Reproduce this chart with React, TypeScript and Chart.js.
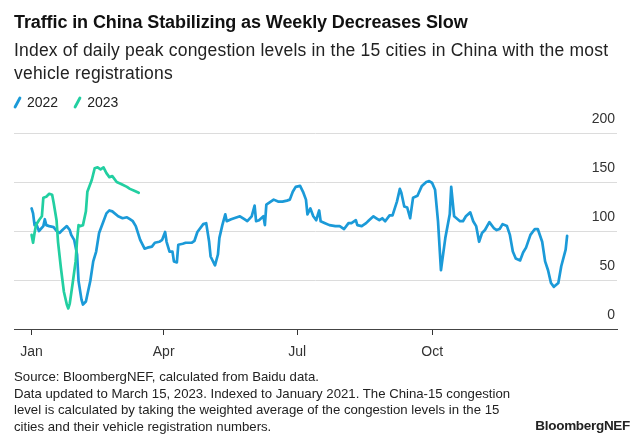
import React, { useEffect, useRef } from "react";
import { Chart, registerables } from "chart.js";

Chart.register(...registerables);

// Day offsets from Jan 1 and index values
const days2022 = [0, 1, 2, 3, 5, 8, 9, 10, 12, 15, 17, 19, 21, 24, 26, 27, 29, 31, 32, 34, 35, 37, 40, 42, 44, 46, 49, 51, 53, 55, 59, 62, 65, 67, 69, 71, 74, 77, 79, 82, 84, 87, 89, 91, 92, 94, 96, 97, 99, 100, 103, 105, 109, 111, 113, 117, 119, 121, 122, 125, 127, 128, 130, 132, 133, 136, 140, 142, 145, 147, 150, 152, 153, 155, 158, 159, 160, 162, 165, 168, 171, 174, 176, 178, 180, 183, 185, 187, 188, 190, 192, 194, 196, 197, 200, 203, 207, 210, 213, 216, 218, 221, 222, 225, 228, 230, 233, 235, 237, 239, 241, 244, 246, 249, 251, 252, 254, 256, 258, 260, 263, 266, 269, 271, 273, 275, 277, 279, 282, 285, 286, 288, 292, 294, 296, 299, 301, 303, 305, 307, 309, 312, 315, 317, 319, 321, 324, 326, 328, 330, 333, 335, 337, 340, 343, 345, 348, 350, 352, 354, 356, 359, 361, 364, 365];
const values2022 = [123, 118, 106, 108, 100, 105, 112, 106, 105, 104, 100, 98, 101, 105, 101, 96, 91, 76, 49, 30, 25, 28, 49, 69, 79, 98, 110, 118, 121, 120, 115, 113, 114, 112, 110, 105, 91, 82, 83, 84, 88, 89, 91, 99, 89, 79, 79, 69, 68, 86, 87, 88, 88, 90, 99, 107, 108, 89, 74, 65, 76, 93, 106, 117, 110, 112, 114, 115, 112, 110, 115, 126, 110, 111, 115, 106, 127, 129, 132, 130, 130, 131, 132, 140, 145, 146, 140, 132, 117, 123, 115, 111, 121, 110, 108, 106, 105, 105, 102, 108, 108, 111, 106, 105, 108, 111, 115, 113, 111, 113, 110, 116, 116, 130, 143, 139, 125, 124, 113, 134, 136, 146, 150, 151, 149, 142, 110, 60, 93, 117, 145, 115, 110, 110, 115, 119, 110, 105, 89, 98, 101, 109, 103, 101, 102, 107, 105, 96, 79, 72, 70, 78, 83, 96, 102, 102, 89, 69, 60, 47, 43, 47, 64, 81, 95];

const days2023 = [0, 1, 2, 3, 5, 7, 8, 10, 12, 14, 15, 17, 18, 20, 22, 24, 25, 26, 28, 30, 31, 32, 33, 35, 37, 38, 41, 43, 45, 47, 49, 51, 53, 55, 58, 61, 65, 67, 70, 73];
const values2023 = [96, 88, 98, 106, 111, 115, 134, 135, 138, 137, 129, 111, 89, 62, 38, 25, 21, 26, 47, 69, 91, 106, 105, 106, 120, 140, 152, 164, 165, 163, 165, 159, 155, 156, 150, 148, 145, 143, 141, 139];

const monthTickDays = [0, 90, 181, 273];
const monthTickLabels = ["Jan", "Apr", "Jul", "Oct"];
const yTickValues = [0, 50, 100, 150, 200];
const seriesLabels = ["2022", "2023"];
const seriesColors = ["#1b9ad8", "#22cfa1"];

const FONT = "'Liberation Sans', Arial, sans-serif";

function TrafficChart() {
  const ref = useRef<HTMLCanvasElement | null>(null);
  useEffect(() => {
    if (!ref.current) return;
    const chart = new Chart(ref.current, {
      type: "line",
      data: {
        datasets: [
          {
            label: seriesLabels[0],
            data: days2022.map((d, i) => ({ x: d, y: values2022[i] })),
            borderColor: seriesColors[0],
            backgroundColor: seriesColors[0],
            borderWidth: 2.7,
            pointRadius: 0,
            tension: 0,
            borderJoinStyle: "round",
            borderCapStyle: "round",
            order: 1,
          },
          {
            label: seriesLabels[1],
            data: days2023.map((d, i) => ({ x: d, y: values2023[i] })),
            borderColor: seriesColors[1],
            backgroundColor: seriesColors[1],
            borderWidth: 2.7,
            pointRadius: 0,
            tension: 0,
            borderJoinStyle: "round",
            borderCapStyle: "round",
            order: 0,
          },
        ],
      },
      options: {
        animation: false,
        responsive: false,
        layout: { padding: { top: 133, left: 14, right: 23, bottom: 71 } },
        plugins: { legend: { display: false }, tooltip: { enabled: false } },
        scales: {
          x: {
            type: "linear",
            min: -12,
            max: 399,
            afterBuildTicks: (s: any) => {
              s.ticks = monthTickDays.map((v) => ({ value: v }));
            },
            afterFit: (s: any) => {
              s.height = 40;
            },
            ticks: {
              autoSkip: false,
              maxRotation: 0,
              padding: 9,
              color: "#333",
              font: { family: FONT, size: 14 },
              callback: (v: any) => {
                const i = monthTickDays.indexOf(Number(v));
                return i >= 0 ? monthTickLabels[i] : "";
              },
            },
            grid: {
              display: true,
              drawOnChartArea: false,
              drawTicks: true,
              tickLength: 6,
              color: "#333",
              tickColor: "#333",
            },
            border: { display: true, color: "#444", width: 1 },
          },
          y: {
            position: "right",
            min: 0,
            max: 200,
            afterBuildTicks: (s: any) => {
              s.ticks = yTickValues.map((v) => ({ value: v }));
            },
            afterFit: (s: any) => {
              s.width = 0;
            },
            ticks: {
              mirror: true,
              labelOffset: -14,
              padding: -2,
              color: "#333",
              font: { family: FONT, size: 14 },
            },
            grid: {
              drawTicks: false,
              color: (ctx: any) => (ctx.tick && ctx.tick.value === 0 ? "rgba(0,0,0,0)" : "#dcdcdc"),
              lineWidth: 1,
            },
            border: { display: false },
          },
        },
      },
    });
    return () => chart.destroy();
  }, []);
  return (
    <canvas
      ref={ref}
      width={640}
      height={440}
      style={{ position: "absolute", left: 0, top: 0, width: 640, height: 440 }}
    />
  );
}

export default function App() {
  const legendIcon = (color: string) => (
    <span
      style={{
        display: "inline-block",
        width: 3,
        height: 13,
        background: color,
        borderRadius: 1.5,
        transform: "rotate(28deg)",
        marginRight: 8,
        verticalAlign: "middle",
      }}
    />
  );
  return (
    <div
      style={{
        position: "fixed",
        left: 0,
        top: 0,
        width: 640,
        height: 440,
        background: "#fff",
        fontFamily: FONT,
        overflow: "hidden",
      }}
    >
      <TrafficChart />
      <div
        style={{
          position: "absolute",
          left: 14,
          top: 12,
          fontSize: 18,
          lineHeight: "21px",
          fontWeight: 700,
          color: "#111",
          whiteSpace: "nowrap",
          letterSpacing: -0.1,
        }}
      >
        Traffic in China Stabilizing as Weekly Decreases Slow
      </div>
      <div
        style={{
          position: "absolute",
          left: 14,
          top: 39,
          fontSize: 17.5,
          lineHeight: "23px",
          color: "#222",
          whiteSpace: "nowrap",
          letterSpacing: 0.2,
        }}
      >
        Index of daily peak congestion levels in the 15 cities in China with the most
        <br />
        vehicle registrations
      </div>
      <div
        style={{
          position: "absolute",
          left: 16,
          top: 92,
          fontSize: 14,
          lineHeight: "18px",
          color: "#222",
          whiteSpace: "nowrap",
        }}
      >
        {legendIcon(seriesColors[0])}
        <span style={{ verticalAlign: "middle", marginRight: 18 }}>{seriesLabels[0]}</span>
        {legendIcon(seriesColors[1])}
        <span style={{ verticalAlign: "middle" }}>{seriesLabels[1]}</span>
      </div>
      <div
        style={{
          position: "absolute",
          left: 14,
          top: 369,
          fontSize: 13.2,
          lineHeight: "16.7px",
          color: "#222",
          whiteSpace: "nowrap",
        }}
      >
        Source: BloombergNEF, calculated from Baidu data.
        <br />
        Data updated to March 15, 2023. Indexed to January 2021. The China-15 congestion
        <br />
        level is calculated by taking the weighted average of the congestion levels in the 15
        <br />
        cities and their vehicle registration numbers.
      </div>
      <div
        style={{
          position: "absolute",
          right: 10,
          top: 417,
          fontSize: 13.5,
          lineHeight: "18px",
          fontWeight: 700,
          color: "#222",
          whiteSpace: "nowrap",
          letterSpacing: -0.3,
        }}
      >
        BloombergNEF
      </div>
    </div>
  );
}
